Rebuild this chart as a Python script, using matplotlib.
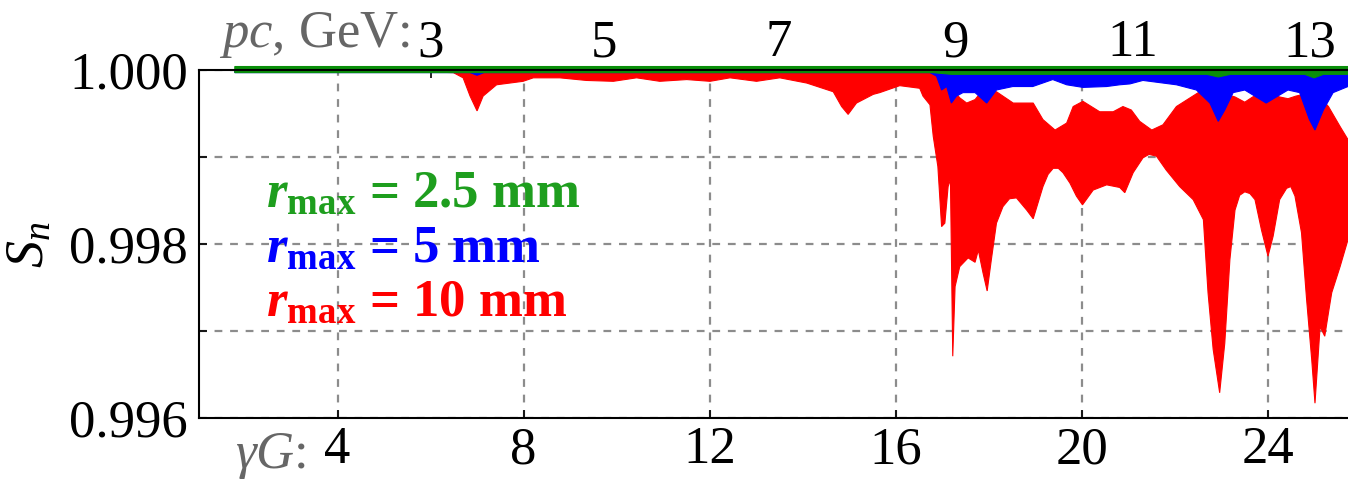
import numpy as np
import matplotlib
matplotlib.use("Agg")
import matplotlib.pyplot as plt
from matplotlib.ticker import FixedLocator, FuncFormatter

plt.rcParams['font.family'] = ['Liberation Serif', 'DejaVu Serif']
plt.rcParams['mathtext.fontset'] = 'custom'
plt.rcParams['mathtext.rm'] = 'Liberation Serif'
plt.rcParams['mathtext.it'] = 'Liberation Serif:italic'
plt.rcParams['mathtext.bf'] = 'Liberation Serif:bold'
plt.rcParams['mathtext.bfit'] = 'Liberation Serif:italic:bold'

# proton constants for the momentum scale on top
G_P = 1.792847
M_P = 0.938272

# r_max = 10 mm : lower and upper envelopes of S_n vs gamma*G
red_lo_x = [1.79, 5.77, 6.49, 6.70, 6.85, 7.00, 7.13, 7.42, 7.99, 8.21, 8.78, 9.35, 9.93,
            10.43, 10.93, 11.51, 12.01, 12.44, 13.01, 13.51, 14.09, 14.66, 14.84, 14.98,
            15.16, 15.52, 15.66, 16.09, 16.52, 16.59, 16.74, 16.81, 16.91, 16.99, 17.06,
            17.13, 17.18, 17.23, 17.28, 17.38, 17.56, 17.71, 17.78, 17.88, 17.97, 18.06,
            18.17, 18.31, 18.45, 18.60, 18.82, 18.96, 19.17, 19.28, 19.39, 19.50, 19.60,
            19.75, 19.89, 20.02, 20.25, 20.54, 20.82, 20.93, 21.11, 21.32, 21.45, 21.61,
            21.82, 22.11, 22.40, 22.62, 22.72, 22.83, 22.97, 23.08, 23.19, 23.30, 23.40,
            23.51, 23.62, 23.73, 23.87, 24.01, 24.12, 24.26, 24.41, 24.50, 24.59, 24.73,
            24.84, 24.95, 25.02, 25.13, 25.23, 25.31, 25.38, 25.56, 25.73]
red_lo = [0.99998, 0.99998, 0.99997, 0.99991, 0.99970, 0.99953, 0.99970, 0.99983, 0.99987,
          0.99991, 0.99991, 0.99988, 0.99987, 0.99991, 0.99987, 0.99989, 0.99987, 0.99991,
          0.99987, 0.99991, 0.99985, 0.99975, 0.99958, 0.99949, 0.99962, 0.99972, 0.99974,
          0.99982, 0.99979, 0.99970, 0.99960, 0.99924, 0.99889, 0.99820, 0.99824, 0.99866,
          0.99874, 0.99671, 0.99751, 0.99774, 0.99784, 0.99779, 0.99793, 0.99767, 0.99746,
          0.99782, 0.99824, 0.99843, 0.99852, 0.99853, 0.99839, 0.99829, 0.99866, 0.99880,
          0.99887, 0.99887, 0.99882, 0.99870, 0.99855, 0.99845, 0.99862, 0.99868, 0.99865,
          0.99859, 0.99882, 0.99899, 0.99903, 0.99901, 0.99885, 0.99866, 0.99851, 0.99828,
          0.99744, 0.99679, 0.99629, 0.99686, 0.99782, 0.99839, 0.99856, 0.99860, 0.99858,
          0.99851, 0.99816, 0.99786, 0.99809, 0.99851, 0.99864, 0.99866, 0.99855, 0.99813,
          0.99736, 0.99667, 0.99617, 0.99705, 0.99694, 0.99721, 0.99744, 0.99774, 0.99805]
red_up_x = [1.79, 16.81, 17.06, 17.20, 17.32, 17.38, 17.53, 17.71, 17.80, 17.96, 18.17,
            18.53, 18.96, 19.17, 19.43, 19.68, 19.82, 20.03, 20.39, 20.68, 20.89, 21.07,
            21.25, 21.51, 21.75, 22.04, 22.54, 22.94, 23.30, 23.51, 23.68, 23.97, 24.26,
            24.44, 24.61, 25.02, 25.31, 25.56, 25.73]
red_up = [1.00000, 1.00000, 0.99990, 0.99990, 0.99972, 0.99968, 0.99962, 0.99966, 0.99972,
          0.99975, 0.99975, 0.99962, 0.99962, 0.99943, 0.99931, 0.99939, 0.99958, 0.99964,
          0.99952, 0.99952, 0.99958, 0.99954, 0.99941, 0.99931, 0.99937, 0.99958, 0.99975,
          0.99975, 0.99969, 0.99963, 0.99969, 0.99975, 0.99969, 0.99967, 0.99970, 0.99975,
          0.99958, 0.99935, 0.99920]

# r_max = 5 mm
blue_x = [1.79, 6.85, 7.00, 7.15, 16.74, 16.88, 16.99, 17.10, 17.20, 17.31, 17.45, 17.71,
          17.96, 18.17, 18.52, 18.95, 19.38, 19.68, 20.03, 20.54, 20.82, 21.04, 21.32,
          22.04, 22.47, 22.76, 22.94, 23.08, 23.26, 23.51, 23.97, 24.44, 24.69, 24.90,
          25.02, 25.20, 25.41, 25.73]
blue_lo = [0.99997, 0.99997, 0.99994, 0.99997, 0.99997, 0.99993, 0.99977, 0.99981, 0.99962,
           0.99970, 0.99974, 0.99974, 0.99962, 0.99977, 0.99981, 0.99981, 0.99989, 0.99983,
           0.99980, 0.99981, 0.99983, 0.99984, 0.99988, 0.99983, 0.99977, 0.99962, 0.99941,
           0.99954, 0.99974, 0.99977, 0.99962, 0.99977, 0.99974, 0.99943, 0.99931, 0.99954,
           0.99974, 0.99981]

# r_max = 2.5 mm
green_x = [1.79, 16.80, 17.20, 22.70, 22.94, 23.20, 24.80, 25.00, 25.20, 25.73]
green_lo = [0.99997, 0.99997, 0.99995, 0.99995, 0.99992, 0.99995, 0.99995, 0.99991, 0.99995,
            0.99995]
green_up = 1.00004

xticks = [4, 8, 12, 16, 20, 24]
pc_ticks = [3, 5, 7, 9, 11, 13]
yticks = [0.996, 0.997, 0.998, 0.999, 1.000]

RED = '#ff0000'
BLUE = '#0000ff'
GREEN = '#0a8f0a'


def band(ax, x_lo, lo, x_up, up, color, clip=True):
    xs = np.concatenate([np.asarray(x_up, float), np.asarray(x_lo, float)[::-1]])
    ys = np.concatenate([np.asarray(up, float), np.asarray(lo, float)[::-1]])
    ax.fill(xs, ys, color=color, lw=0.8, ec=color, clip_on=clip, zorder=2)


fig = plt.figure(figsize=(13.48, 4.79), dpi=100)
ax = fig.add_axes([199 / 1348, 1 - 418 / 479, 1 - 199 / 1348, 348 / 479])

band(ax, red_lo_x, red_lo, red_up_x, red_up, RED)
band(ax, blue_x, blue_lo, [blue_x[0], blue_x[-1]], [1.0, 1.0], BLUE)
band(ax, green_x, green_lo, [green_x[0], green_x[-1]], [green_up, green_up], GREEN,
     clip=False)

ax.set_xlim(1.02, 25.73)
ax.set_ylim(0.996, 1.000)

ax.xaxis.set_major_locator(FixedLocator(xticks))
ax.yaxis.set_major_locator(FixedLocator(yticks))
ax.yaxis.set_major_formatter(FuncFormatter(
    lambda v, p: '%.3f' % v if round(v * 1000) % 2 == 0 else ''))
ax.grid(True, color='#8c8c8c', linestyle=(0, (3.5, 3.5)), linewidth=1.6)
ax.tick_params(direction='in', length=6, width=1.2, labelsize=38, colors='black')
ax.tick_params(axis='y', pad=8)
ax.tick_params(axis='x', pad=6)
ax.spines['right'].set_visible(False)
for s in ['left', 'bottom', 'top']:
    ax.spines[s].set_linewidth(1.5)
    ax.spines[s].set_zorder(3)


# momentum pc [GeV] <-> gamma*G, continued below gamma*G = G so the map stays invertible
def g2p(g):
    u = (np.asarray(g, float) / G_P) ** 2 - 1.0
    return M_P * np.sign(u) * np.sqrt(np.abs(u))


def p2g(p):
    p = np.asarray(p, float)
    return G_P * np.sqrt(np.maximum(1.0 + np.sign(p) * (p / M_P) ** 2, 0.0))


top = ax.secondary_xaxis('top', functions=(g2p, p2g))
top.set_xticks(pc_ticks)
top.tick_params(direction='in', length=6, width=1.2, labelsize=38, pad=2)
top.spines['top'].set_visible(False)

fig.text(410 / 1348, 1 - 47 / 479, r'$pc$, GeV:', color='#666666', fontsize=38,
         ha='right', va='baseline')
fig.text(306 / 1348, 1 - 468 / 479, r'$\gamma G$:', color='#666666', fontsize=38,
         ha='right', va='baseline')
fig.text(30 / 1348, 1 - 245 / 479, r'$S_n$', fontsize=39, rotation=90,
         ha='center', va='center')

legend_rows = [(r'$\mathbfit{r}_{\mathbf{max}}$ = 2.5 mm', '#1e9e1e', 207),
               (r'$\mathbfit{r}_{\mathbf{max}}$ = 5 mm', BLUE, 262),
               (r'$\mathbfit{r}_{\mathbf{max}}$ = 10 mm', RED, 316)]
for label, col, yb in legend_rows:
    fig.text(266 / 1348, 1 - yb / 479, label, color=col, fontsize=38,
             fontweight='bold', ha='left', va='baseline')

fig.savefig('out.png', dpi=100)
